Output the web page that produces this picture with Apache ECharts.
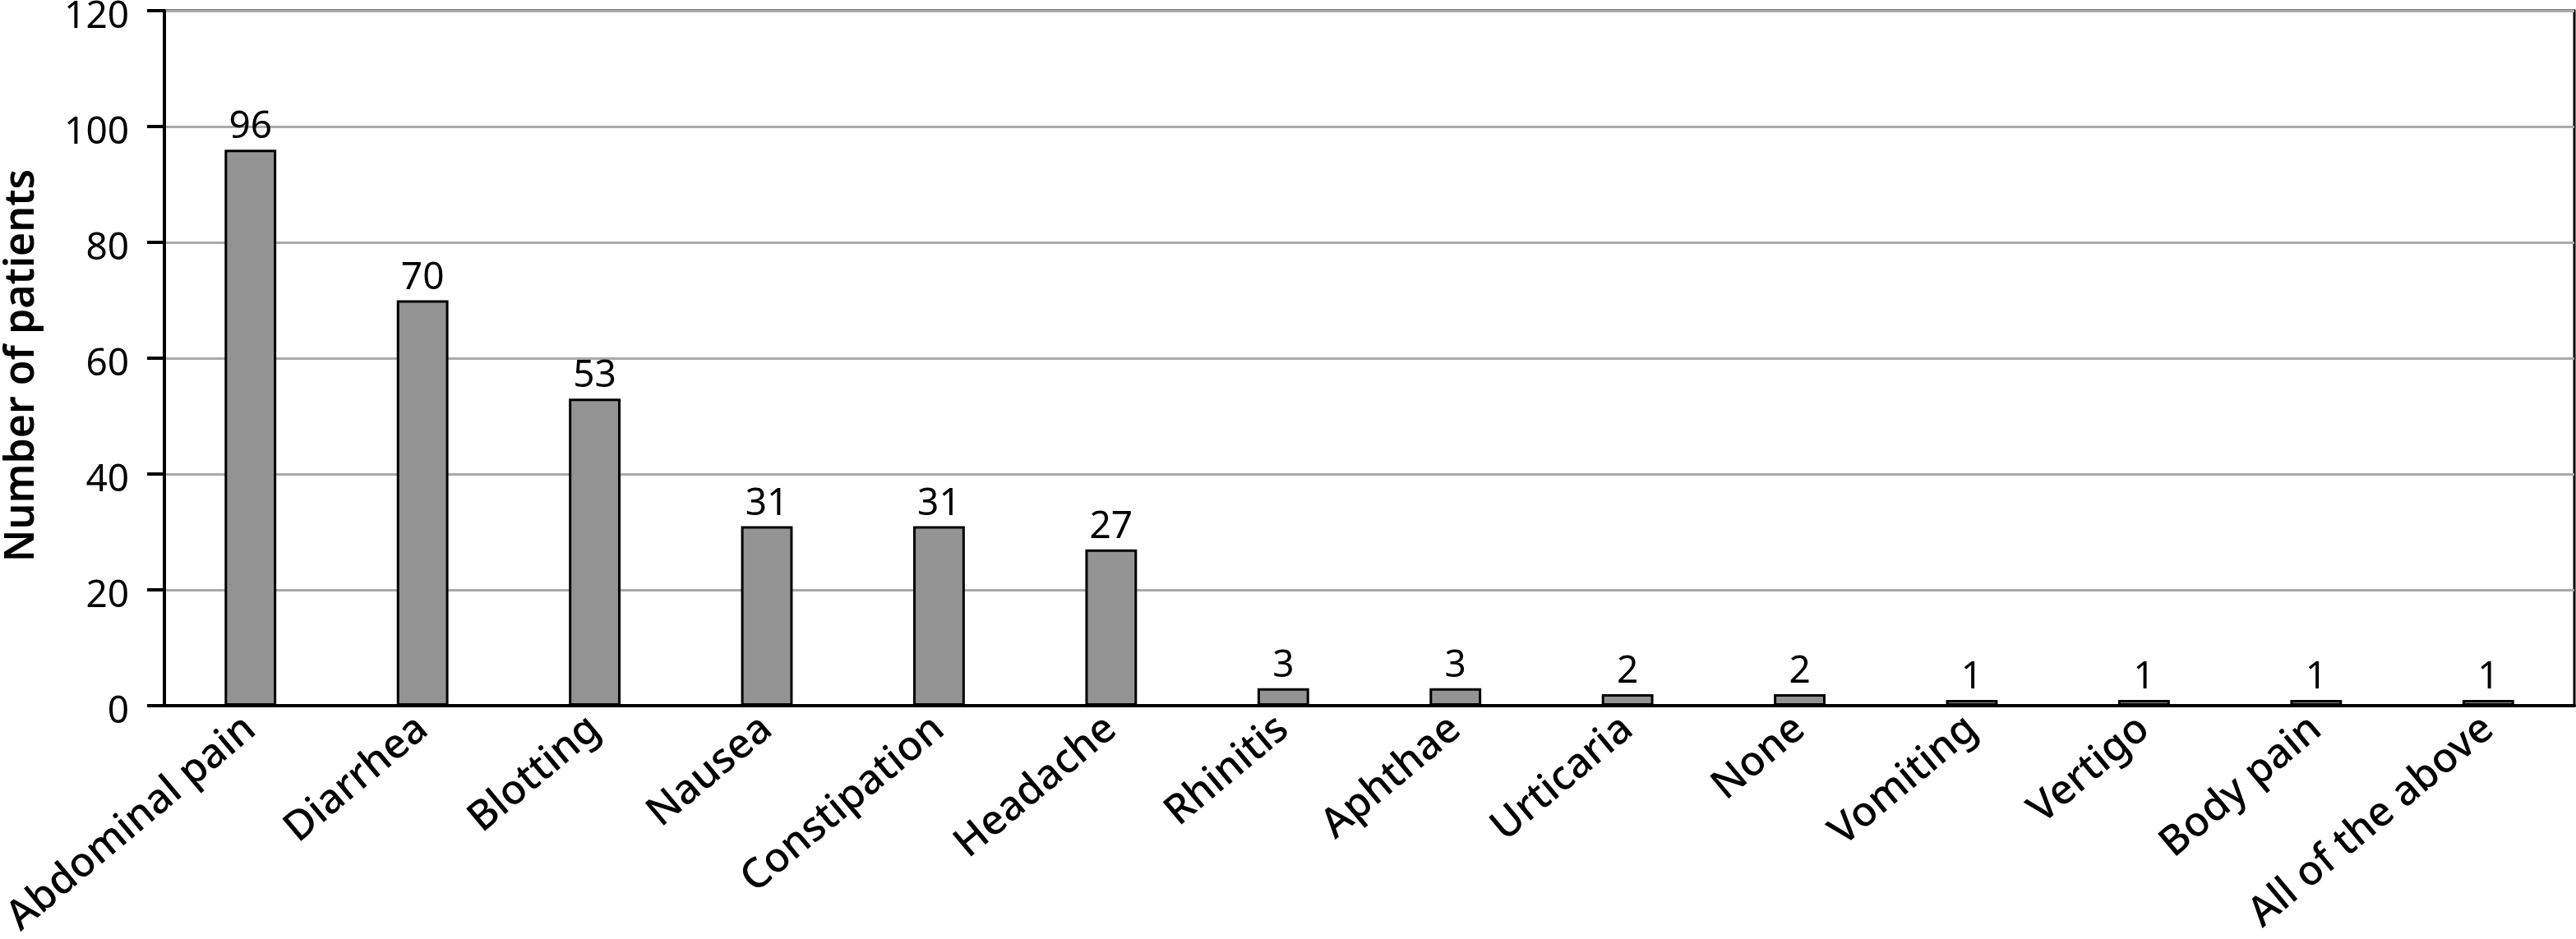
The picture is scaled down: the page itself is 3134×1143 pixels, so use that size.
<!DOCTYPE html>
<html>
<head>
<meta charset="utf-8">
<style>
  html, body { margin: 0; padding: 0; background: #fff; }
  #chart { width: 3134px; height: 1143px; }
</style>
<script src="https://cdn.jsdelivr.net/npm/echarts@6/dist/echarts.min.js"></script>
</head>
<body>
<div id="chart"></div>
<script>
const categories = ['Abdominal pain', 'Diarrhea', 'Blotting', 'Nausea', 'Constipation', 'Headache', 'Rhinitis', 'Aphthae', 'Urticaria', 'None', 'Vomiting', 'Vertigo', 'Body pain', 'All of the above'];
const patients = [96, 70, 53, 31, 31, 27, 3, 3, 2, 2, 1, 1, 1, 1];
const yAxisName = 'Number of patients';

const chart = echarts.init(document.getElementById('chart'), null, { renderer: 'canvas' });
const fontFamily = '"Noto Sans", "Open Sans", sans-serif';
chart.setOption({
  animation: false,
  backgroundColor: '#ffffff',
  grid: {
    left: 200, right: 2, top: 13, bottom: 284,
    containLabel: false,
    outerBoundsMode: 'none',
    show: true, borderColor: '#000', borderWidth: 3, backgroundColor: 'transparent'
  },
  xAxis: {
    type: 'category',
    data: categories,
    axisLine: { show: true, lineStyle: { color: '#000', width: 4 } },
    axisTick: { show: false },
    axisLabel: {
      interval: 0,
      rotate: 40,
      margin: 22,
      color: '#000',
      fontSize: 50,
      fontWeight: 500,
      fontFamily: fontFamily
    }
  },
  yAxis: {
    type: 'value',
    min: 0, max: 120, interval: 20,
    name: yAxisName,
    nameLocation: 'middle',
    nameGap: 148,
    nameTextStyle: { color: '#000', fontSize: 50, fontWeight: 600, fontFamily: fontFamily, padding: [0, 18, 0, 0] },
    axisLine: { show: true, lineStyle: { color: '#000', width: 4 } },
    axisTick: { show: true, length: 21, lineStyle: { color: '#000', width: 4 } },
    axisLabel: { margin: 43, color: '#000', fontSize: 46, fontFamily: fontFamily, verticalAlign: 'top', lineHeight: 16 },
    splitLine: { show: true, lineStyle: { color: '#aaaaaa', width: 3 } }
  },
  series: [{
    type: 'bar',
    data: patients,
    barWidth: '30%',
    itemStyle: { color: '#939393', borderColor: '#000', borderWidth: 3 },
    label: {
      show: true, position: 'top', distance: 4,
      color: '#000', fontSize: 46, fontFamily: fontFamily
    }
  }]
});
</script>
</body>
</html>
